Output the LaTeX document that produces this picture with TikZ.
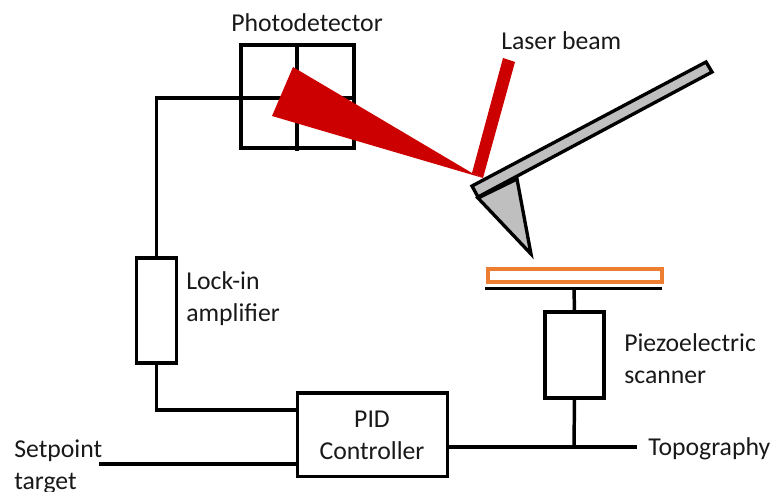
\documentclass[tikz,border=0pt]{standalone}
\usepackage{fontspec}
\setmainfont{Carlito}
\tikzset{x=0.75pt,y=-0.75pt,
wire/.style={draw=black,line width=2.6pt,line cap=butt},
boxx/.style={draw=black,line width=2.6pt,fill=white,inner sep=0pt,outer sep=0pt},
lbl/.style={font=\fontsize{19.3}{23.3}\selectfont,text=black!90,inner sep=0pt,align=left},
}
\definecolor{beam}{RGB}{204,0,0}
\definecolor{orng}{RGB}{237,125,49}
\definecolor{tipg}{RGB}{191,191,191}
\begin{document}
\begin{tikzpicture}
\useasboundingbox (0,0) rectangle (771,492);
\node[boxx,minimum width=84.75pt,minimum height=77.25pt,anchor=north west] (pd) at (241,45) {};
\coordinate (pdl) at (241,98);
\coordinate (pdr) at (354,98);
\coordinate (pdt) at (297,45);
\coordinate (pdb) at (297,151);
\draw[wire] (pdl)--(pdr);
\draw[wire] (pdt)--(pdb);
\fill[beam] (293,67)--(272,116)--(483,178)--(472,173)--cycle;
\fill[beam] (503,58)--(515,62)--(483,178)--(472,173)--cycle;
\node[boxx,minimum width=30pt,minimum height=78.75pt,anchor=north west] (li) at (136.5,258) {};
\node[boxx,minimum width=112.5pt,minimum height=62.5pt,anchor=north west] (pid) at (297.5,393) {};
\node[boxx,minimum width=44.25pt,minimum height=64.5pt,anchor=north west] (pz) at (545,312) {};
\coordinate (c1) at (156.5,98);
\coordinate (c2) at (156.5,410);
\coordinate (spt) at (99,464);
\coordinate (topo) at (637,447);
\coordinate (j) at (574,447);
\coordinate (st) at (574,288);
\draw[wire] (pdl)--(c1)--(li.north);
\draw[wire] (li.south)--(c2)--(c2-|pid.west);
\draw[wire] (spt)--(spt-|pid.west);
\draw[wire] (pid.east|-j)--(topo);
\draw[wire] (pz.south)--(j);
\draw[wire] (st)--(pz.north);
\coordinate (sl) at (485,288.7);
\coordinate (sr) at (662,288.7);
\draw[wire] (sl)--(sr);
\node[draw=orng,line width=3pt,fill=white,minimum width=130.5pt,minimum height=9.75pt,inner sep=0pt,outer sep=0pt,anchor=north west] (smp) at (488,269) {};
\draw[draw=black,line width=2.5pt,fill=tipg] (478,198)--(517,179)--(531,254)--cycle;
\draw[draw=black,line width=2.5pt,fill=tipg] (472,186)--(706,62)--(712,72)--(478,197)--cycle;
\node[lbl,anchor=base west] (t1) at (231,32) {Photodetector};
\node[lbl,anchor=base west] (t2) at (501,50) {Laser beam};
\node[lbl,anchor=base west] (t3) at (186,321) {Lock-in\\amplifier};
\node[lbl,anchor=base west] (t4) at (624,383) {Piezoelectric\\scanner};
\node[lbl,align=center,anchor=base] (t5) at (372,459) {PID\\Controller};
\node[lbl,anchor=base west] (t6) at (14,489) {Setpoint\\target};
\node[lbl,anchor=base west] (t7) at (648,455) {Topography};
\end{tikzpicture}
\end{document}
